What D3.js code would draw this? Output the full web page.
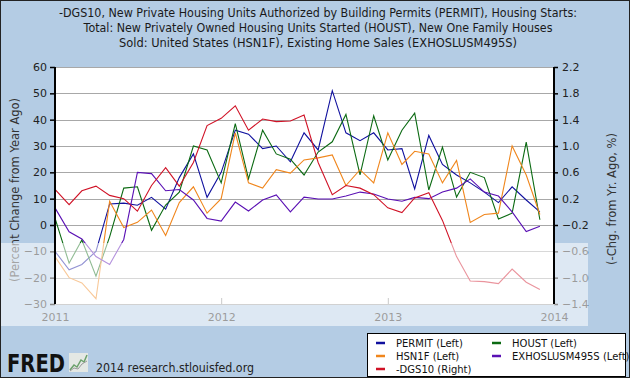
<!DOCTYPE html>
<html>
<head>
<meta charset="utf-8">
<script src="https://cdn.jsdelivr.net/npm/d3@7"></script>
<style>
  body { margin: 0; background: #fff; }
  svg { display: block; }
  text { font-family: "DejaVu Sans", Verdana, sans-serif; }
</style>
</head>
<body>
<svg id="chart" width="630" height="378"></svg>
<script>
// monthly observations, Jan 2011 .. Dec 2013
const months = d3.timeMonth.range(new Date(2011, 0, 1), new Date(2014, 0, 1));

// percent change from year ago (left axis)
const permit = [-10, -17, -15, -10, 8, 8.3, 7.5, 10.5, 6, 18, 27, 10.5,
                20, 36, 34.5, 29, 30, 24, 35, 28.5, 51, 35, 32, 35,
                28.5, 29, 13.7, 34, 23, 19, 16, 12.5, 8.5, 14.5, 9.5, 5];
const houst = [2.6, -14.5, -5.7, -19.4, -4.5, 14, 14.5, -2, 7.6, 12.5, 30, 28.5,
               16, 38.5, 17.5, 36, 27, 25, 19, 27.7, 31.6, 42, 19, 41.5,
               24.7, 36, 42.5, 13.3, 29.6, 10.6, 20, 18, 2.3, 4.5, 31.5, 2];
const hsn1f = [-12, -20, -22, -28, 9, -1, 1, 5.7, -4, 8.5, 14.5, 4.5,
               10, 35, 16, 14, 21, 19.7, 24.7, 25.5, 26.6, 15, 21, 16,
               35, 23, 28, 27, 16, 24.5, 1, 4, 4.5, 30, 19, 4];
const exhos = [6.5, -2.6, -5.3, -12, -15, -5.5, 20, 19.5, 13, 13.5, 9.5, 2.5,
               1.5, 8.7, 5.3, 9.5, 11.4, 5, 10.6, 9.9, 9.9, 11, 12.5, 11.8,
               9.9, 9, 10.5, 10, 12.5, 14, 17.5, 12.5, 11, 5, -2.5, -0.5];
// negative change from year ago, percentage points (right axis)
const dgs10 = [0.34, 0.11, 0.32, 0.39, 0.25, 0.20, 0.01, 0.40, 0.67, 0.39, 0.75, 1.31,
               1.42, 1.61, 1.24, 1.41, 1.37, 1.38, 1.47, 0.75, 0.26, 0.40, 0.36, 0.26,
               0.06, -0.01, 0.21, 0.29, -0.13, -0.68, -1.05, -1.06, -1.09, -0.87, -1.07, -1.18];

const leftTicks = [-30, -20, -10, 0, 10, 20, 30, 40, 50, 60];
const rightTicks = [-1.4, -1.0, -0.6, -0.2, 0.2, 0.6, 1.0, 1.4, 1.8, 2.2];
const yearTicks = [2011, 2012, 2013, 2014];

const titleLines = [
  "-DGS10, New Private Housing Units Authorized by Building Permits (PERMIT), Housing Starts:",
  "Total: New Privately Owned Housing Units Started (HOUST), New One Family Houses",
  "Sold: United States (HSN1F), Existing Home Sales (EXHOSLUSM495S)"
];

const series = [
  { name: "PERMIT (Left)", values: permit, color: "#10109e", axis: "left" },
  { name: "HOUST (Left)", values: houst, color: "#0b6a12", axis: "left" },
  { name: "HSN1F (Left)", values: hsn1f, color: "#f0861c", axis: "left" },
  { name: "EXHOSLUSM495S (Left)", values: exhos, color: "#5a10b4", axis: "left" },
  { name: "-DGS10 (Right)", values: dgs10, color: "#d01226", axis: "right" }
];

const W = 630, H = 378;
const plot = { left: 55, right: 554, top: 67, bottom: 304 };
const svg = d3.select("#chart");

const x = d3.scaleTime()
  .domain([new Date(2011, 0, 1), new Date(2014, 0, 1)])
  .range([plot.left, plot.right]);
const yL = d3.scaleLinear().domain([-30, 60]).range([plot.bottom, plot.top]);
const yR = d3.scaleLinear().domain([-1.4, 2.2]).range([plot.bottom, plot.top]);

// background
svg.append("rect").attr("width", W).attr("height", H).attr("fill", "#b4cce4");
svg.append("rect")
  .attr("x", plot.left).attr("y", plot.top)
  .attr("width", plot.right - plot.left).attr("height", plot.bottom - plot.top)
  .attr("fill", "#fff");

// title
svg.append("g").selectAll("text")
  .data(titleLines)
  .join("text")
  .attr("x", 318)
  .attr("y", (d, i) => 17 + i * 15)
  .attr("text-anchor", "middle")
  .attr("font-size", 11.5)
  .attr("fill", "#1a1a1a")
  .attr("textLength", (d, i) => [518, 469, 398][i])
  .attr("lengthAdjust", "spacingAndGlyphs")
  .text(d => d);

// grid
svg.append("g").selectAll("line")
  .data(leftTicks)
  .join("line")
  .attr("x1", plot.left).attr("x2", plot.right)
  .attr("y1", d => Math.round(yL(d)) + 0.5).attr("y2", d => Math.round(yL(d)) + 0.5)
  .attr("stroke", "#a8a8a8").attr("stroke-width", 1);

// series lines
const lineL = d3.line().x((d, i) => x(months[i])).y(d => yL(d));
const lineR = d3.line().x((d, i) => x(months[i])).y(d => yR(d));
svg.append("g").selectAll("path")
  .data(series)
  .join("path")
  .attr("d", s => (s.axis === "left" ? lineL : lineR)(s.values))
  .attr("fill", "none")
  .attr("stroke", s => s.color)
  .attr("stroke-width", 1.1)
  .attr("stroke-linejoin", "miter");

// left axis
const axL = svg.append("g")
  .attr("transform", `translate(${plot.left},0)`)
  .call(d3.axisLeft(yL).tickValues(leftTicks).tickSize(5).tickPadding(3));
// right axis
const axR = svg.append("g")
  .attr("transform", `translate(${plot.right},0)`)
  .call(d3.axisRight(yR).tickValues(rightTicks).tickSize(4).tickPadding(4)
    .tickFormat(d3.format(".1f")));
// bottom axis
const axB = svg.append("g")
  .attr("transform", `translate(0,${plot.bottom})`)
  .call(d3.axisBottom(x)
    .tickValues(yearTicks.map(y => new Date(y, 0, 1)))
    .tickSize(-6).tickPadding(9)
    .tickFormat(d3.timeFormat("%Y")));

[axL, axR, axB].forEach(g => {
  g.selectAll("text").attr("font-size", 11).attr("fill", "#222")
    .attr("font-family", "DejaVu Sans, Verdana, sans-serif");
});
axB.select(".domain").attr("stroke", "#999");
axB.selectAll(".tick line").attr("stroke", "#888");
axL.select(".domain").remove();
axR.select(".domain").remove();
axL.selectAll(".tick line").attr("stroke", "#000").attr("stroke-width", 1.5);
axR.selectAll(".tick line").attr("stroke", "#000").attr("stroke-width", 1.5);

// axis titles
svg.append("text")
  .attr("transform", "translate(19,190) rotate(-90)")
  .attr("text-anchor", "middle")
  .attr("font-size", 11.5)
  .attr("fill", "#333")
  .text("(Percent Change from Year Ago)");
svg.append("text")
  .attr("transform", "translate(616,199) rotate(-90)")
  .attr("text-anchor", "middle")
  .attr("font-size", 11.5)
  .attr("fill", "#333")
  .text("(-Chg. from Yr. Ago, %)");

// glossy highlight across the lower part
svg.append("path")
  .attr("d", "M0,243 L588,243 L588,326 L0,326 Z")
  .attr("fill", "#fff")
  .attr("opacity", 0.55);

// black vertical axis lines sit on top of the highlight
svg.append("line")
  .attr("x1", plot.left).attr("x2", plot.left)
  .attr("y1", plot.top).attr("y2", plot.bottom)
  .attr("stroke", "#000").attr("stroke-width", 2);
svg.append("line")
  .attr("x1", plot.right).attr("x2", plot.right)
  .attr("y1", plot.top).attr("y2", plot.bottom)
  .attr("stroke", "#000").attr("stroke-width", 2);

// legend
const legend = svg.append("g");
legend.append("rect")
  .attr("x", 367.5).attr("y", 333.5).attr("width", 258).attr("height", 43)
  .attr("fill", "#fff").attr("stroke", "#000");
const legendPos = [[376, 343], [492, 343], [376, 356], [492, 356], [376, 369]];
series.forEach((s, k) => {
  const [lx, ly] = legendPos[k];
  legend.append("line")
    .attr("x1", lx).attr("x2", lx + 9)
    .attr("y1", ly).attr("y2", ly)
    .attr("stroke", s.color).attr("stroke-width", 2.5);
  legend.append("text")
    .attr("x", lx + 20).attr("y", ly + 4)
    .attr("font-size", 10)
    .attr("fill", "#111")
    .text(s.name);
});

// FRED logo and source
svg.append("text")
  .attr("x", 7).attr("y", 372)
  .attr("font-family", "Liberation Sans, Arial, sans-serif")
  .attr("font-weight", "bold")
  .attr("font-size", 24)
  .attr("textLength", 58)
  .attr("lengthAdjust", "spacingAndGlyphs")
  .attr("fill", "#111")
  .text("FRED");
const icon = svg.append("g").attr("transform", "translate(69,353)");
icon.append("rect").attr("width", 19).attr("height", 19).attr("fill", "#e4e8e4");
icon.append("path")
  .attr("d", "M1,17 L5,12 L8,14 L12,7 L15,9 L18,2")
  .attr("fill", "none").attr("stroke", "#6aa06a").attr("stroke-width", 1.5);
icon.append("path")
  .attr("d", "M1,18 L5,15 L9,16 L13,11 L18,8")
  .attr("fill", "none").attr("stroke", "#9a9a9a").attr("stroke-width", 1);
svg.append("text")
  .attr("x", 96).attr("y", 372)
  .attr("font-size", 12)
  .attr("textLength", 158)
  .attr("lengthAdjust", "spacingAndGlyphs")
  .attr("fill", "#222")
  .text("2014 research.stlouisfed.org");

// outer frame
svg.append("rect")
  .attr("x", 0.5).attr("y", 0.5).attr("width", W - 1).attr("height", H - 1)
  .attr("fill", "none").attr("stroke", "#222");
</script>
</body>
</html>
